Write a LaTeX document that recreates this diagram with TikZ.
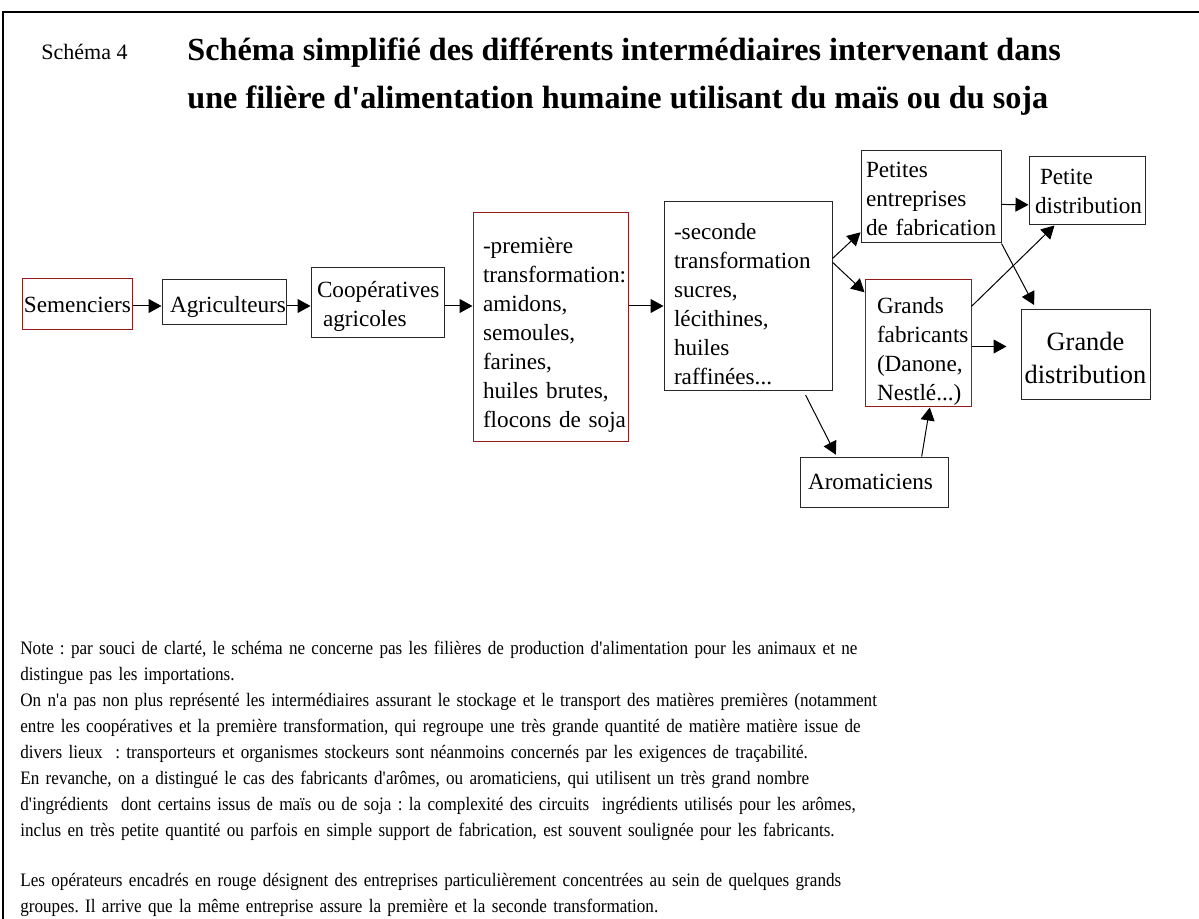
\documentclass[tikz,border=0pt]{standalone}
\usepackage{fontspec}
\setmainfont{Liberation Serif}
\newfontfamily\notefont[FakeStretch=0.9]{Liberation Serif}
\usetikzlibrary{arrows.meta,calc}

\definecolor{rougecadre}{RGB}{150,25,25}
\definecolor{gristrait}{RGB}{40,40,40}
\newcommand{\ap}{\textquotesingle}

\tikzset{
  boite/.style={draw=gristrait,line width=0.5pt,inner ysep=0pt,align=left,
    font=\fontsize{11.6}{14.5}\selectfont},
  descente/.style={execute at begin node={\rule{0pt}{#1}}},
  fleche/.style={-{Triangle[length=6.5pt,width=7pt]},line width=0.5pt},
}

\begin{document}
\begin{tikzpicture}[x=0.5pt,y=-0.5pt]
\useasboundingbox (0,0) rectangle (1199,919);
\draw[line width=1.2pt] (3,919) -- (3,12) -- (1199,12);

\node[anchor=west,inner sep=0pt,font=\fontsize{11}{13}\selectfont] (num) at (41,52) {Schéma 4};
\node[anchor=west,align=left,inner sep=0pt,font=\fontsize{16.1}{24}\selectfont\bfseries] (titre) at (187,77)
  {Schéma simplifié des différents intermédiaires intervenant dans\\
   une filière d\ap alimentation humaine utilisant du maïs ou du soja};

\begin{scope}[every node/.style={boite}]
  \node[minimum height=22.5pt,text width=54pt,inner xsep=4pt,descente=13pt] (A) at (224,302.5) {Agriculteurs};
  \node[minimum height=35pt,text width=60.5pt,inner xsep=3pt,descente=12pt] (C) at (377.5,303)
    {Coopératives\\\hspace{3pt}agricoles};
  \node[minimum height=94.5pt,text width=74pt,inner xsep=5pt,descente=16pt] (P2) at (748,296.5)
    {-seconde\\transformation\\sucres,\\lécithines,\\huiles\\raffinées...};
  \node[minimum height=46pt,text width=65pt,inner xsep=2.5pt,descente=10pt] (PE) at (931,197)
    {Petites\\entreprises\\\mbox{de fabrication}};
  \node[minimum height=34pt,text width=52pt,inner xsep=3pt] (PD) at (1087,191)
    {\hspace{2.5pt}Petite\\distribution};
  \node[minimum height=45pt,text width=64.5pt,inner xsep=0pt,align=center,descente=12pt,
    font=\fontsize{13.2}{16.5}\selectfont] (GD) at (1085.5,355) {Grande\\distribution};
  \node[minimum height=25pt,text width=66pt,inner xsep=4pt] (AR) at (874,482) {Aromaticiens};
\end{scope}

\begin{scope}[every node/.style={boite,draw=rougecadre}]
  \node[minimum height=25.5pt,text width=53pt,inner xsep=1pt] (S) at (77,304.5) {Semenciers};
  \node[minimum height=114.5pt,text width=67.5pt,inner xsep=5pt,descente=15pt] (P1) at (550.5,327.5)
    {-première\\transformation:\\amidons,\\semoules,\\farines,\\\mbox{huiles brutes,}\\\mbox{flocons de soja}};
  \node[minimum height=63.5pt,text width=41pt,inner xsep=6pt,descente=16pt] (GF) at (918,343.5)
    {Grands\\fabricants\\(Danone,\\Nestlé...)};
\end{scope}

\coordinate (axe) at (0,306);

\begin{scope}[every edge/.style={draw,fleche}]
  \path (S.east |- axe) edge (A.west |- axe);
  \path (A.east |- axe) edge (C.west |- axe);
  \path (C.east |- axe) edge (P1.west |- axe);
  \path (P1.east |- axe) edge (P2.west |- axe);
  \path ($(P2.north east)!0.3!(P2.south east)$) edge ($(PE.north west)!0.88!(PE.south west)$);
  \path ($(P2.north east)!0.32!(P2.south east)$) edge ($(GF.north west)!0.1!(GF.south west)$);
  \path ($(PE.north east)!0.58!(PE.south east)$) edge ($(PD.north west)!0.7!(PD.south west)$);
  \path (PE.south east) edge[shorten >=2.5pt] ([xshift=4pt]PD.south west |- GD.north);
  \path ($(GF.north east)!0.21!(GF.south east)$) edge ([xshift=13pt]PD.south west);
  \path ([yshift=-1.5pt]GF.east) edge[shorten >=7pt] ([yshift=-1.5pt]GF.east -| GD.west);
  \path ($(P2.south west)!0.83!(P2.south east)$) edge[shorten <=2pt,shorten >=1pt] ($(AR.north west)!0.25!(AR.north east)$);
  \path ($(AR.north west)!0.82!(AR.north east)$) edge ($(GF.south west)!0.61!(GF.south east)$);
\end{scope}

\node[anchor=north west,inner sep=0pt,align=left,text width=585pt,
  font=\notefont\fontsize{9.5}{13}\selectfont\frenchspacing] (note) at (20,641)
  {Note : par souci de clarté, le schéma ne concerne pas les filières de production d\ap alimentation pour les animaux et ne\\
   distingue pas les importations.\\
   On n\ap a pas non plus représenté les intermédiaires assurant le stockage et le transport des matières premières (notamment\\
   entre les coopératives et la première transformation, qui regroupe une très grande quantité de matière matière issue de\\
   divers lieux \ : transporteurs et organismes stockeurs sont néanmoins concernés par les exigences de traçabilité.\\
   En revanche, on a distingué le cas des fabricants d\ap arômes, ou aromaticiens, qui utilisent un très grand nombre\\
   d\ap ingrédients \ dont certains issus de maïs ou de soja : la complexité des circuits \ ingrédients utilisés pour les arômes,\\
   inclus en très petite quantité ou parfois en simple support de fabrication, est souvent soulignée pour les fabricants.\\[12pt]
   Les opérateurs encadrés en rouge désignent des entreprises particulièrement concentrées au sein de quelques grands\\
   groupes. Il arrive que la même entreprise assure la première et la seconde transformation.};
\end{tikzpicture}
\end{document}
